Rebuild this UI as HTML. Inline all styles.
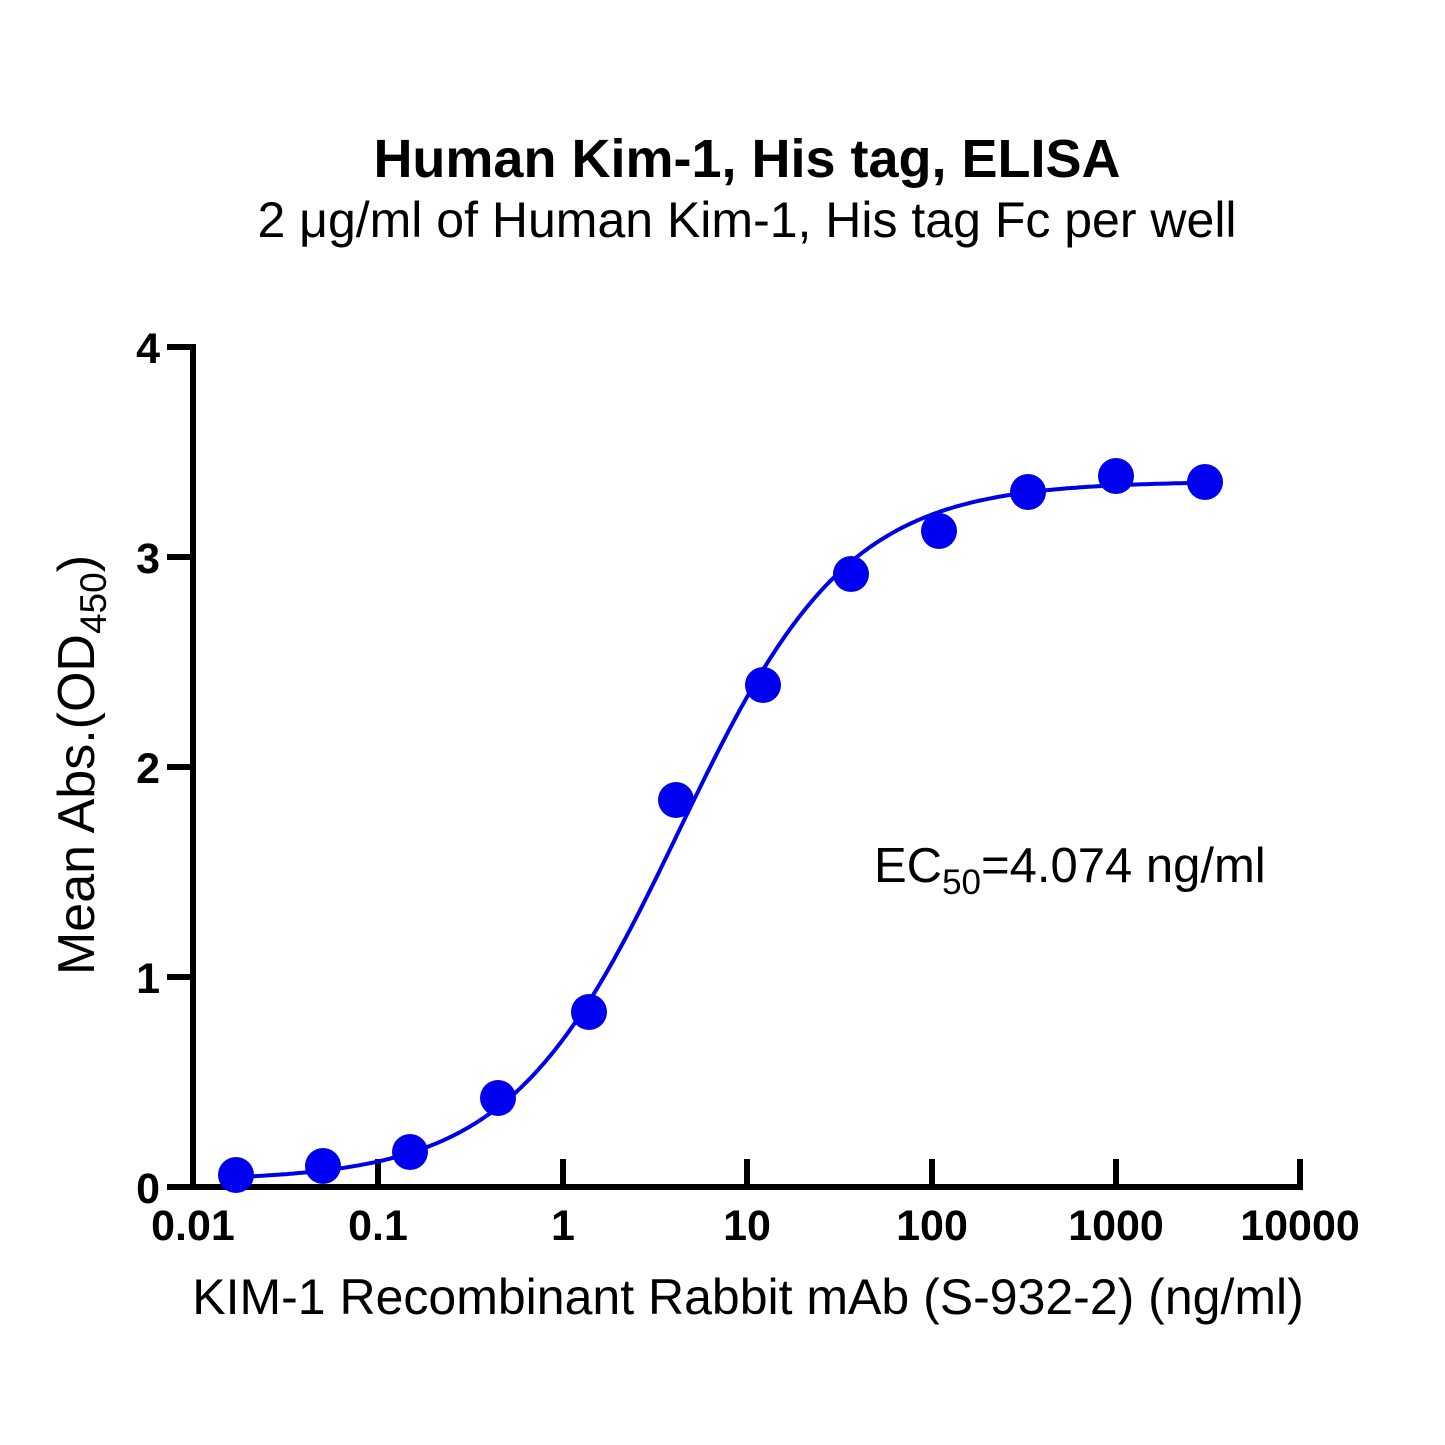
<!DOCTYPE html>
<html><head><meta charset="utf-8"><style>body{margin:0;background:#fff}svg{display:block}</style></head>
<body>
<svg id="s" width="1445" height="1445" xmlns="http://www.w3.org/2000/svg" font-family="Liberation Sans, Arial, sans-serif">
<rect width="1445" height="1445" fill="#fff"/>
<text x="747" y="177" text-anchor="middle" font-size="54" font-weight="bold">Human Kim-1, His tag, ELISA</text>
<text x="747" y="237" text-anchor="middle" font-size="50">2 μg/ml of Human Kim-1, His tag Fc per well</text>
<g stroke="#000" stroke-width="6" fill="none">
<line x1="193" y1="344" x2="193" y2="1190"/>
<line x1="167" y1="1187" x2="1303" y2="1187"/>
<line x1="167" y1="347" x2="193" y2="347"/>
<line x1="167" y1="557" x2="193" y2="557"/>
<line x1="167" y1="767" x2="193" y2="767"/>
<line x1="167" y1="977" x2="193" y2="977"/>
<line x1="378" y1="1159" x2="378" y2="1187"/>
<line x1="563" y1="1159" x2="563" y2="1187"/>
<line x1="747" y1="1159" x2="747" y2="1187"/>
<line x1="932" y1="1159" x2="932" y2="1187"/>
<line x1="1116" y1="1159" x2="1116" y2="1187"/>
<line x1="1300" y1="1159" x2="1300" y2="1190"/>
</g>
<g font-size="43" font-weight="bold" text-anchor="end">
<text x="160" y="363">4</text><text x="160" y="573">3</text><text x="160" y="783">2</text><text x="160" y="993">1</text><text x="160" y="1203">0</text>
</g>
<g font-size="43" font-weight="bold" text-anchor="middle">
<text x="193" y="1240">0.01</text><text x="378" y="1240">0.1</text><text x="563" y="1240">1</text><text x="747" y="1240">10</text><text x="932" y="1240">100</text><text x="1116" y="1240">1000</text><text x="1300" y="1240">10000</text>
</g>
<text x="748" y="1314" text-anchor="middle" font-size="50">KIM-1 Recombinant Rabbit mAb (S-932-2) (ng/ml)</text>
<text transform="translate(94,765) rotate(-90)" text-anchor="middle" font-size="52">Mean Abs.(OD<tspan font-size="37" dy="12">450</tspan><tspan dy="-12">)</tspan></text>
<text x="874" y="882" font-size="49">EC<tspan font-size="35" dy="12">50</tspan><tspan dy="-12">=4.074 ng/ml</tspan></text>
<path id="c" fill="none" stroke="#0000e6" stroke-width="4"/>
<g fill="#0000f0">
<circle cx="236" cy="1175" r="18"/><circle cx="323" cy="1166" r="18"/><circle cx="410" cy="1152" r="18"/><circle cx="498" cy="1098" r="18"/><circle cx="589" cy="1012" r="18"/><circle cx="676" cy="800" r="18"/><circle cx="763" cy="685" r="18"/><circle cx="851" cy="574" r="18"/><circle cx="939" cy="531" r="18"/><circle cx="1028" cy="492" r="18"/><circle cx="1116" cy="476" r="18"/><circle cx="1205" cy="482" r="18"/>
</g>
</svg>
<script>
var d="";for(var px=236;px<=1205;px+=3){var lx=(px-193)/184.5-2;var x=Math.pow(10,lx);var y=0.03+3.33/(1+Math.pow(4.3/x,0.95));var py=1187-210*y;d+=(d?"L":"M")+px+","+py.toFixed(1);}
document.getElementById("c").setAttribute("d",d);
</script>
</body></html>
